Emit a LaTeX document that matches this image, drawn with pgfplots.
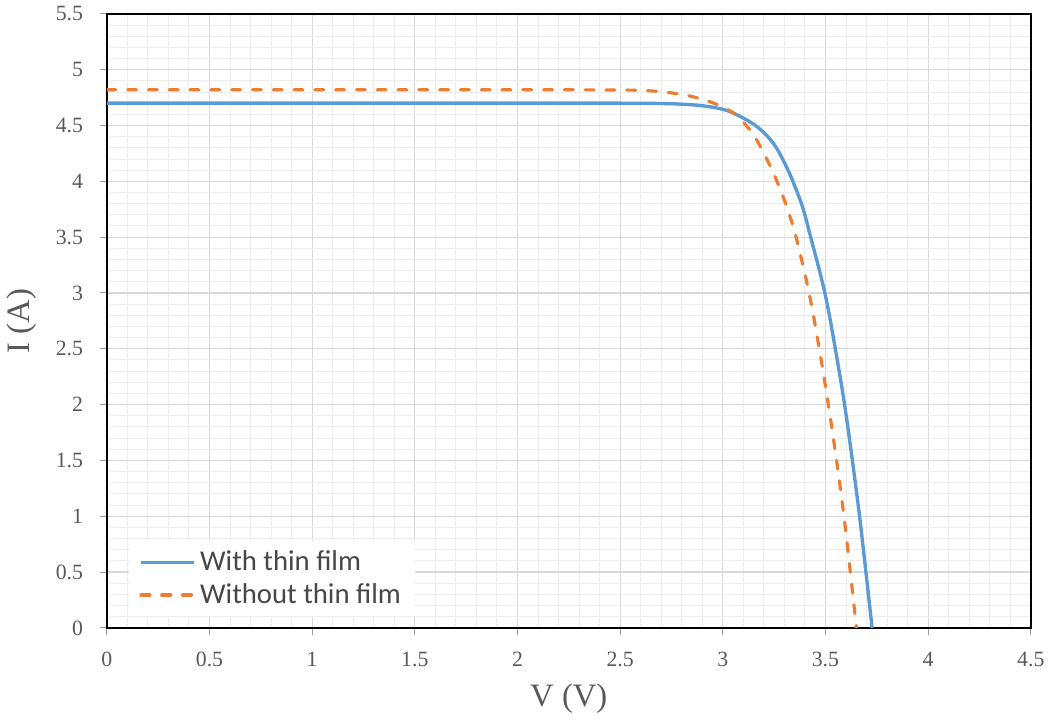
\documentclass[border=0pt]{standalone}
\usepackage{fontspec}
\setmainfont{Liberation Serif}
\newfontfamily\legendfont{Carlito}
\usepackage{pgfplots}
\pgfplotsset{compat=1.18}

\definecolor{withfilm}{HTML}{5B9BD5}
\definecolor{nofilm}{HTML}{ED7D31}
\definecolor{labgray}{HTML}{595959}
\definecolor{majgrid}{HTML}{D9D9D9}
\definecolor{mingrid}{HTML}{EDEDED}

\begin{document}
\begin{tikzpicture}
\begin{axis}[
    scale only axis,
    width=466.5pt, height=310pt,
    xmin=0, xmax=4.5, ymin=0, ymax=5.5,
    xtick={0,0.5,...,4.5},
    ytick={0,0.5,...,5.5},
    minor x tick num=4,
    minor y tick num=4,
    grid=both,
    major grid style={majgrid, line width=0.6pt},
    minor grid style={mingrid, line width=0.5pt},
    axis line style={black, line width=1pt},
    tick align=outside,
    tick pos=left,
    major tick length=3.5pt,
    minor tick length=0pt,
    major tick style={labgray!60, line width=0.5pt},
    /pgf/number format/assume math mode=true,
    ticklabel style={font=\fontsize{11}{13}\selectfont, text=labgray},
    xticklabel style={yshift=-5pt},
    yticklabel style={xshift=-5pt},
    xlabel={V (V)},
    ylabel={I (A)},
    label style={font=\fontsize{16.5}{19}\selectfont, text=labgray},
    xlabel style={yshift=-2pt},
    ylabel style={yshift=3pt},
    legend style={at={(0.024,0.018)}, anchor=south west, draw=none,
        fill=white, font=\legendfont\fontsize{14.5}{17}\selectfont,
        text=labgray!80!black, row sep=1pt, inner xsep=5pt, inner ysep=3pt},
    legend cell align=left,
    legend image code/.code={\draw[#1] (0pt,0pt) -- (27pt,0pt);},
]
\addplot[withfilm, line width=1.7pt, smooth, tension=0.6] coordinates {
    (0,4.70) (1,4.70) (2,4.70) (2.5,4.70) (2.7,4.697) (2.8,4.691)
    (2.9,4.677) (3.0,4.645) (3.07,4.595) (3.17,4.485) (3.25,4.33)
    (3.31,4.13) (3.35,3.96) (3.39,3.76) (3.428,3.50) (3.497,3.00)
    (3.548,2.50) (3.593,2.00) (3.631,1.50) (3.666,1.00) (3.697,0.50)
    (3.727,0)
};
\addlegendentry{With thin film}
\addplot[nofilm, line width=1.6pt, line cap=round, dash pattern=on 4.5pt off 6pt, smooth, tension=0.6] coordinates {
    (0,4.82) (1,4.82) (2,4.82) (2.5,4.818) (2.65,4.81) (2.75,4.792)
    (2.85,4.76) (2.95,4.705) (3.0,4.665) (3.071,4.585) (3.144,4.43)
    (3.192,4.28) (3.24,4.10) (3.288,3.89) (3.328,3.68) (3.361,3.47)
    (3.42,3.00) (3.47,2.50) (3.514,2.00) (3.554,1.50) (3.59,1.00)
    (3.621,0.50) (3.651,0)
};
\addlegendentry{Without thin film}
\end{axis}
\end{tikzpicture}
\end{document}
